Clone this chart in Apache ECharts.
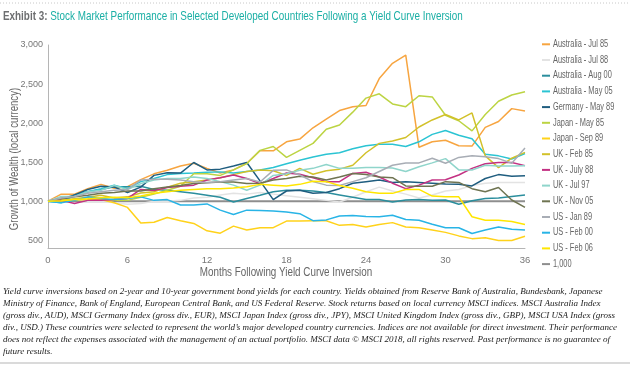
<!DOCTYPE html>
<html><head><meta charset="utf-8">
<script src="https://cdn.jsdelivr.net/npm/echarts@6/dist/echarts.min.js"></script>
<style>html,body{margin:0;padding:0;background:#fff}#c{width:630px;height:366px}</style>
</head><body><div id="c"></div>
<script>
var months = [];
for (var i = 0; i <= 36; i++) months.push(i);

var seriesNames = ["Australia - Jul 85","Australia - Jul 88","Australia - Aug 00","Australia - May 05","Germany - May 89","Japan - May 85","Japan - Sep 89","UK - Feb 85","UK - July 88","UK - Jul 97","UK - Nov 05","US - Jan 89","US - Feb 00","US - Feb 06","1,000"];

var ausJul85 = [1000,1090,1090,1160,1215,1165,1185,1275,1350,1395,1450,1485,1420,1360,1400,1485,1645,1645,1760,1795,1940,2050,2160,2210,2225,2570,2765,2870,1690,1760,1780,1710,1705,1945,2020,2185,2155];
var ausJul88 = [1000,1050,1020,1000,1000,980,960,970,1000,1000,1010,1040,1050,1080,1100,1090,1110,1090,1070,1050,1030,1010,990,1050,1120,1180,1130,1090,1040,1080,1130,1150,1200,1230,1240,1240,1240];
var ausAug00 = [1000,1030,1075,1120,1150,1185,1185,1190,1150,1140,1120,1100,1075,1050,990,1035,1075,1120,1140,1140,1130,1110,1080,1050,1020,1020,990,1015,1020,1010,1015,960,1005,1035,1040,1060,1080];
var ausMay05 = [1000,980,1075,1120,1160,1205,1160,1250,1290,1340,1355,1360,1370,1375,1360,1380,1400,1430,1480,1525,1565,1600,1620,1670,1710,1730,1730,1700,1760,1855,1905,1845,1800,1600,1580,1540,1610];
var gerMay89 = [1000,1010,1080,1150,1190,1180,1110,1180,1330,1365,1360,1495,1400,1410,1450,1495,1260,1020,1130,1140,1100,1110,1160,1230,1250,1270,1240,1250,1240,1230,1220,1215,1195,1290,1340,1320,1325];
var jpnMay85 = [1000,1000,1010,1020,1030,1010,1010,1050,1090,1140,1190,1350,1350,1330,1400,1480,1650,1700,1560,1650,1740,1920,1975,2140,2320,2375,2245,2210,2350,2335,2100,2030,1900,2110,2280,2360,2400];
var jpnSep89 = [1000,1010,1020,1020,1020,980,920,720,730,790,750,715,620,590,680,630,660,660,745,745,750,750,690,700,670,700,725,670,660,630,600,555,520,530,495,495,550];
var ukFeb85 = [1000,1010,1030,1050,1075,1040,1055,1105,1120,1180,1230,1250,1270,1300,1340,1380,1400,1390,1330,1420,1345,1390,1410,1460,1620,1740,1770,1815,1950,2040,2110,2040,2130,1580,1430,1550,1625];
var ukJul88 = [1000,1010,970,1010,1010,1020,1035,1150,1135,1175,1190,1205,1270,1300,1335,1290,1225,1290,1360,1345,1300,1250,1250,1355,1370,1310,1230,1160,1205,1270,1275,1335,1420,1480,1495,1495,1455];
var ukJul97 = [1000,1060,1060,1120,1140,1200,1150,1225,1270,1290,1290,1310,1290,1250,1205,1140,1205,1330,1350,1395,1420,1470,1420,1420,1430,1430,1425,1380,1440,1490,1545,1400,1400,1460,1450,1450,1455];
var ukNov05 = [1000,1035,1055,1075,1100,1110,1130,1130,1160,1180,1200,1225,1235,1245,1245,1225,1230,1270,1290,1320,1310,1270,1310,1355,1340,1310,1300,1195,1190,1190,1250,1240,1160,1120,1175,1015,920];
var usJan89 = [1000,1040,1060,1100,1120,1140,1150,1270,1280,1280,1270,1250,1240,1250,1270,1290,1245,1395,1400,1335,1250,1205,1200,1250,1300,1380,1460,1490,1490,1550,1485,1560,1580,1570,1545,1485,1680];
var usFeb00 = [1000,980,1010,1055,1035,1020,1035,1055,1010,1020,950,950,965,885,830,885,880,875,860,840,750,760,810,815,805,800,820,765,755,705,660,660,585,630,670,640,630];
var usFeb06 = [1000,1005,1020,1030,1045,1050,1045,1065,1100,1120,1140,1150,1160,1160,1170,1185,1215,1205,1195,1215,1255,1250,1200,1165,1120,1100,1100,1150,1150,1065,1055,1055,800,755,755,740,700];
var baseline = [1000,1000,1000,1000,1000,1000,1000,1000,1000,1000,1000,1000,1000,1000,1000,1000,1000,1000,1000,1000,1000,1000,1000,1000,1000,1000,1000,1000,1000,1000,1000,1000,1000,1000,1000,1000,1000];

var seriesValues = [ausJul85,ausJul88,ausAug00,ausMay05,gerMay89,jpnMay85,jpnSep89,ukFeb85,ukJul88,ukJul97,ukNov05,usJan89,usFeb00,usFeb06,baseline];
var seriesColors = ["#F7A540","#E3E3E3","#2B8E9D","#2BC4D3","#1F5D7F","#BCD443","#FFD21A","#D2C12A","#C33183","#8FD5CB","#6F7452","#A8ADB5","#28B4E6","#FFE600","#8E8E8E"];

var xTickLabels = ["0","6","12","18","24","30","36"];
var yTickLabels = ["500","1,000","1,500","2,000","2,500","3,000"];

var titleLead = "Exhibit 3: ";
var titleText = "Stock Market Performance in Selected Developed Countries Following a Yield Curve Inversion";
var xAxisName = "Months Following Yield Curve Inversion";
var yAxisName = "Growth of Wealth (local currency)";

var footnote = [
"Yield curve inversions based on 2-year and 10-year government bond yields for each country. Yields obtained from Reserve Bank of Australia, Bundesbank, Japanese",
"Ministry of Finance, Bank of England, European Central Bank, and US Federal Reserve. Stock returns based on local currency MSCI indices. MSCI Australia Index",
"(gross div., AUD), MSCI Germany Index (gross div., EUR), MSCI Japan Index (gross div., JPY), MSCI United Kingdom Index (gross div., GBP), MSCI USA Index (gross",
"div., USD.) These countries were selected to represent the world\u2019s major developed country currencies. Indices are not available for direct investment. Their performance",
"does not reflect the expenses associated with the management of an actual portfolio. MSCI data \u00a9 MSCI 2018, all rights reserved. Past performance is no guarantee of",
"future results."
];

var sans = "'Liberation Sans','Roboto',sans-serif";

var series = seriesNames.map(function (name, k) {
  return {
    name: name,
    type: 'line',
    symbol: 'none',
    smooth: false,
    data: seriesValues[k].map(function (v, j) { return [months[j], v]; }),
    lineStyle: { color: seriesColors[k], width: k === 14 ? 2 : 1.5 },
    itemStyle: { color: seriesColors[k] },
    z: k === 14 ? 1 : 2,
    emphasis: { disabled: true }
  };
});

var graphics = [
  { type: 'line', shape: { x1: 0, y1: 3, x2: 630, y2: 3 }, style: { stroke: '#c8c8c8', lineWidth: 1, lineDash: [1, 2] } },
  { type: 'text', x: 3, y: 10, scaleX: 0.76, style: {
      text: '{a|' + titleLead + '}{b|' + titleText + '}',
      rich: {
        a: { fontFamily: sans, fontSize: 13, fontWeight: 'bold', fill: '#6d6e70' },
        b: { fontFamily: sans, fontSize: 13, fill: '#1BAFA5' }
      } } },
  { type: 'text', x: 286, y: 273, scaleX: 0.82, style: { text: xAxisName, fontFamily: sans, fontSize: 12, fill: '#666', align: 'center', verticalAlign: 'middle' } },
  { type: 'text', x: 15, y: 159, rotation: Math.PI / 2, scaleX: 0.8, style: { text: yAxisName, fontFamily: sans, fontSize: 12, fill: '#666', align: 'center', verticalAlign: 'middle' } },
  { type: 'line', shape: { x1: 0, y1: 363, x2: 630, y2: 363 }, style: { stroke: '#b5b5b5', lineWidth: 1 } }
];
footnote.forEach(function (t, i) {
  graphics.push({ type: 'text', x: 3, y: 287 + i * 12, style: { text: t, fontFamily: "'Liberation Serif','DejaVu Serif',serif", fontStyle: 'italic', fontSize: 9.05, fill: '#222' } });
});
seriesNames.forEach(function (name, k) {
  var yc = 44.3 + k * 15.7;
  graphics.push({ type: 'line', shape: { x1: 542, y1: yc, x2: 550, y2: yc }, style: { stroke: seriesColors[k], lineWidth: 2 } });
  graphics.push({ type: 'text', x: 553, y: yc, scaleX: 0.74, style: { text: name, fontFamily: sans, fontSize: 10, fill: '#666', verticalAlign: 'middle' } });
});

var chart = echarts.init(document.getElementById('c'), null, { renderer: 'canvas' });
chart.setOption({
  animation: false,
  backgroundColor: '#fff',
  grid: { left: 48, right: 105, top: 45, bottom: 118, containLabel: false },
  xAxis: {
    type: 'value', min: 0, max: 36, interval: 6,
    axisLine: { show: true, lineStyle: { color: '#b5b5b5', width: 1 } },
    axisTick: { show: false },
    splitLine: { show: false },
    axisLabel: { fontFamily: sans, fontSize: 9.5, color: '#777', margin: 7,
      formatter: function (v) { var i = xTickLabels.indexOf(String(v)); return i >= 0 ? xTickLabels[i] : ''; } }
  },
  yAxis: {
    type: 'value', min: 400, max: 3000, interval: 100,
    axisLine: { show: true, lineStyle: { color: '#b5b5b5', width: 1 } },
    axisTick: { show: false },
    splitLine: { show: false },
    axisLabel: { fontFamily: sans, fontSize: 9, color: '#777', margin: 5,
      formatter: function (v) { if (v % 500 !== 0) return ''; var s = v >= 1000 ? Math.floor(v / 1000) + ',' + String(v % 1000).padStart(3, '0') : String(v); return yTickLabels.indexOf(s) >= 0 ? s : ''; } }
  },
  series: series,
  graphic: graphics
});
</script>
</body></html>
